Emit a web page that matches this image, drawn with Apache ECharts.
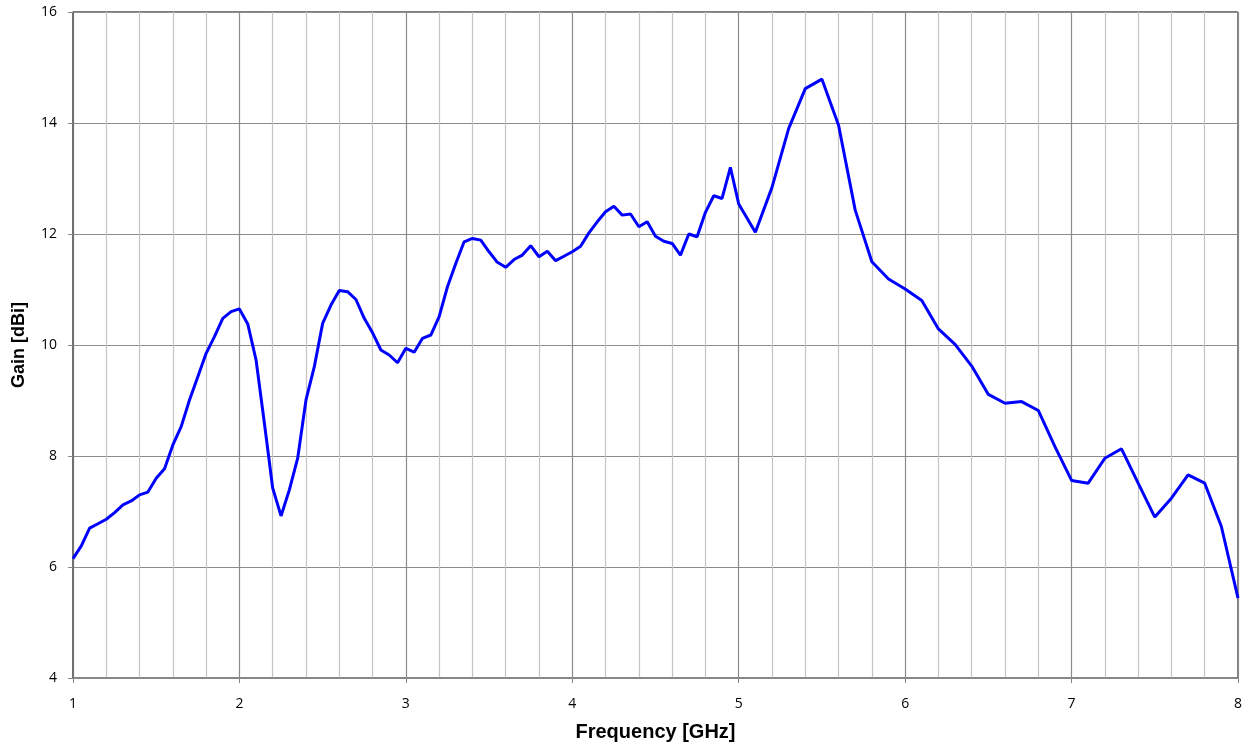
<!DOCTYPE html>
<html>
<head>
<meta charset="utf-8">
<script src="https://cdn.jsdelivr.net/npm/echarts@6/dist/echarts.min.js"></script>
<style>
html,body{margin:0;padding:0;background:#fff;}
#chart{width:1252px;height:746px;}
</style>
</head>
<body>
<div id="chart"></div>
<script>
// Frequencies (GHz): 0.05 steps from 1.00 to 5.00, then 0.1 steps to 8.0
var freqFine = [1.00,1.05,1.10,1.15,1.20,1.25,1.30,1.35,1.40,1.45,1.50,1.55,1.60,1.65,1.70,1.75,1.80,1.85,1.90,1.95,
  2.00,2.05,2.10,2.15,2.20,2.25,2.30,2.35,2.40,2.45,2.50,2.55,2.60,2.65,2.70,2.75,2.80,2.85,2.90,2.95,
  3.00,3.05,3.10,3.15,3.20,3.25,3.30,3.35,3.40,3.45,3.50,3.55,3.60,3.65,3.70,3.75,3.80,3.85,3.90,3.95,
  4.00,4.05,4.10,4.15,4.20,4.25,4.30,4.35,4.40,4.45,4.50,4.55,4.60,4.65,4.70,4.75,4.80,4.85,4.90,4.95,5.00];
var gainFine = [6.15,6.38,6.70,6.78,6.86,6.98,7.12,7.19,7.30,7.35,7.60,7.77,8.20,8.53,9.01,9.43,9.85,10.15,10.48,10.60,
  10.65,10.38,9.73,8.59,7.42,6.92,7.39,7.96,9.01,9.61,10.39,10.72,10.98,10.96,10.82,10.48,10.22,9.91,9.82,9.68,
  9.94,9.87,10.12,10.18,10.51,11.05,11.47,11.86,11.92,11.89,11.68,11.49,11.40,11.54,11.62,11.79,11.59,11.69,11.52,11.60,
  11.68,11.78,12.02,12.22,12.40,12.50,12.34,12.36,12.13,12.22,11.96,11.87,11.83,11.62,12.00,11.95,12.39,12.69,12.64,13.20,12.54];
var freqCoarse = [5.1,5.2,5.3,5.4,5.5,5.6,5.7,5.8,5.9,6.0,6.1,6.2,6.3,6.4,6.5,6.6,6.7,6.8,6.9,7.0,
  7.1,7.2,7.3,7.4,7.5,7.6,7.7,7.8,7.9,8.0];
var gainCoarse = [12.03,12.84,13.90,14.62,14.79,13.96,12.43,11.50,11.19,11.01,10.80,10.29,10.01,9.62,9.11,8.95,8.98,8.82,8.17,7.56,
  7.51,7.96,8.13,7.51,6.90,7.24,7.66,7.51,6.73,5.44];

var xTitle = 'Frequency [GHz]';
var yTitle = 'Gain [dBi]';

var freqs = freqFine.concat(freqCoarse);
var gains = gainFine.concat(gainCoarse);
var seriesData = freqs.map(function (f, i) { return [f, gains[i]]; });

var chart = echarts.init(document.getElementById('chart'), null, {renderer: 'canvas'});
chart.setOption({
  animation: false,
  backgroundColor: '#ffffff',
  grid: {left: 73, right: 14, top: 12, bottom: 68, containLabel: false, outerBoundsMode: 'none',
    show: true, borderColor: '#000', borderWidth: 1, backgroundColor: 'transparent'},
  xAxis: {
    type: 'value', min: 1, max: 8, interval: 1,
    name: xTitle, nameLocation: 'middle', nameGap: 44,
    nameTextStyle: {fontFamily: 'Liberation Sans, Arial', fontWeight: 'bold', fontSize: 20, color: '#000'},
    axisLine: {show: true, onZero: false, lineStyle: {color: '#888', width: 1.5}},
    axisTick: {show: true, length: 5, lineStyle: {color: '#888'}},
    axisLabel: {fontFamily: 'Open Sans, Liberation Sans', fontSize: 14, color: '#000', margin: 19},
    splitLine: {show: true, lineStyle: {color: '#8c8c8c', width: 1.2}},
    minorTick: {show: false, splitNumber: 5},
    minorSplitLine: {show: true, lineStyle: {color: '#c4c4c4', width: 1.2}}
  },
  yAxis: {
    type: 'value', min: 4, max: 16, interval: 2,
    name: yTitle, nameLocation: 'middle', nameGap: 45, nameRotate: 90,
    nameTextStyle: {fontFamily: 'Liberation Sans, Arial', fontWeight: 'bold', fontSize: 18, color: '#000'},
    axisLine: {show: true, onZero: false, lineStyle: {color: '#6a6a6a', width: 1.5}},
    axisTick: {show: true, length: 5, lineStyle: {color: '#888'}},
    axisLabel: {fontFamily: 'Open Sans, Liberation Sans', fontSize: 14, color: '#000', margin: 16},
    splitLine: {show: true, lineStyle: {color: '#8c8c8c', width: 1.2}}
  },
  series: [{
    type: 'line',
    data: seriesData,
    showSymbol: false,
    symbol: 'none',
    smooth: false,
    lineStyle: {color: '#0000ff', width: 3},
    z: 5
  }]
});
</script>
</body>
</html>
